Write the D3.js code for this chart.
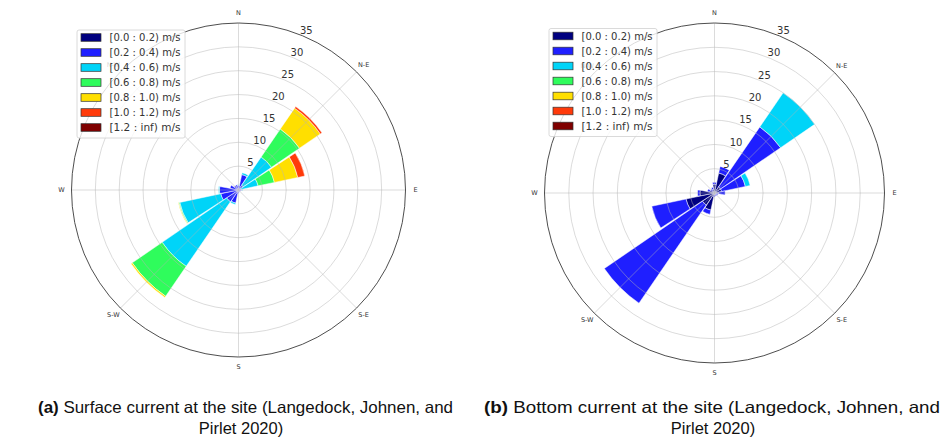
<!DOCTYPE html>
<html>
<head>
<meta charset="utf-8">
<script src="https://cdnjs.cloudflare.com/ajax/libs/d3/7.8.5/d3.min.js"></script>
<style>
  body { margin: 0; background: #fff; }
  svg { display: block; }
</style>
</head>
<body>
<svg id="fig" width="944" height="446"></svg>
<script>
// 16 direction sectors, compass degrees (0 = N, clockwise)
var sectorAngles = d3.range(16).map(function(i) { return i * 22.5; });

var speedBins = ["[0.0 : 0.2) m/s", "[0.2 : 0.4) m/s", "[0.4 : 0.6) m/s", "[0.6 : 0.8) m/s",
                 "[0.8 : 1.0) m/s", "[1.0 : 1.2) m/s", "[1.2 : inf) m/s"];

// frequency (%) per direction, one value per speed bin
var surfaceFreq = [
  [0.4, 0.6, 0.1, 0, 0, 0, 0],     // N
  [0.4, 2.9, 0.4, 0, 0, 0, 0],     // NNE
  [0.3, 0.9, 7.2, 7.1, 5.3, 0.4, 0], // NE
  [0.2, 0.4, 3.6, 3.5, 5.0, 1.5, 0], // ENE
  [0.2, 0.5, 0.2, 0, 0, 0, 0],     // E
  [0.2, 0.3, 0, 0, 0, 0, 0],       // ESE
  [0.2, 0.2, 0, 0, 0, 0, 0],       // SE
  [0.2, 0.3, 0, 0, 0, 0, 0],       // SSE
  [0.3, 0.4, 0, 0, 0, 0, 0],       // S
  [0.5, 2.3, 0.3, 0, 0, 0, 0],     // SSW
  [0.5, 2.5, 16.4, 7.6, 0.3, 0, 0], // SW
  [0.3, 3.5, 8.8, 0.2, 0.1, 0, 0], // WSW
  [0.5, 3.5, 0.2, 0, 0, 0, 0],     // W
  [0.3, 1.5, 0, 0, 0, 0, 0],       // WNW
  [0.3, 0.8, 0, 0, 0, 0, 0],       // NW
  [0.3, 0.8, 0, 0, 0, 0, 0]        // NNW
];

var bottomFreq = [
  [1.8, 0.4, 0, 0, 0, 0, 0],   // N
  [4.2, 1.4, 0, 0, 0, 0, 0],   // NNE
  [1.5, 15.0, 8.5, 0, 0, 0, 0], // NE
  [1.5, 5.0, 1.0, 0, 0, 0, 0], // ENE
  [0.8, 1.4, 0, 0, 0, 0, 0],   // E
  [0.3, 0.5, 0, 0, 0, 0, 0],   // ESE
  [0.3, 0.4, 0, 0, 0, 0, 0],   // SE
  [0.3, 0.4, 0, 0, 0, 0, 0],   // SSE
  [0.4, 0.4, 0, 0, 0, 0, 0],   // S
  [3.6, 0.9, 0, 0, 0, 0, 0],   // SSW
  [3.0, 24.5, 0, 0, 0, 0, 0],  // SW
  [6.0, 7.2, 0, 0, 0, 0, 0],   // WSW
  [3.0, 0.5, 0, 0, 0, 0, 0],   // W
  [1.0, 0.5, 0, 0, 0, 0, 0],   // WNW
  [0.5, 0.5, 0, 0, 0, 0, 0],   // NW
  [0.8, 0.4, 0, 0, 0, 0, 0]    // NNW
];

var radialTicks = [5, 10, 15, 20, 25, 30, 35];
var compassLabels = ["N", "N-E", "E", "S-E", "S", "S-W", "W", "N-W"];

var captionA = ["(a)", " Surface current at the site (Langedock, Johnen, and", "Pirlet 2020)"];
var captionB = ["(b)", " Bottom current at the site (Langedock, Johnen, and", "Pirlet 2020)"];

var binColors = ["#00007f", "#1f1fff", "#00d4f8", "#2ffc5c", "#ffdf00", "#ff3a0a", "#7f0000"];

var svg = d3.select("#fig");
var rad = Math.PI / 180;

function drawRose(cx, cy, R, data, legendX, legendY) {
  var g = svg.append("g").attr("transform", "translate(" + cx + "," + cy + ")");
  var r = d3.scaleLinear().domain([0, 35]).range([0, R]);

  // stacked speed bins per direction
  var stack = d3.stack().keys(d3.range(speedBins.length));
  var series = stack(data);

  var halfW = 22.5 * 0.94 / 2;
  var arc = d3.arc();

  series.forEach(function(s, k) {
    g.append("g").selectAll("path")
      .data(s)
      .join("path")
      .attr("d", function(d, i) {
        if (d[1] - d[0] <= 0) return null;
        return arc({
          innerRadius: r(d[0]), outerRadius: r(d[1]),
          startAngle: (sectorAngles[i] - halfW) * rad,
          endAngle: (sectorAngles[i] + halfW) * rad
        });
      })
      .attr("fill", binColors[k])
      .attr("stroke", "#fff")
      .attr("stroke-width", 0.5);
  });

  // grid over the bars
  var grid = g.append("g").attr("fill", "none").attr("stroke", "#b4b4b4")
    .attr("stroke-opacity", 0.6).attr("stroke-width", 0.8);
  grid.selectAll("circle").data(radialTicks.slice(0, -1)).join("circle")
    .attr("r", function(d) { return r(d); });
  grid.selectAll("line").data(d3.range(8)).join("line")
    .attr("x1", 0).attr("y1", 0)
    .attr("x2", function(i) { return R * Math.sin(i * 45 * rad); })
    .attr("y2", function(i) { return -R * Math.cos(i * 45 * rad); });

  g.append("circle").attr("r", R).attr("fill", "none")
    .attr("stroke", "#3a3a3a").attr("stroke-width", 0.9);

  // compass labels (N-W sits under the legend, as in the original)
  g.append("g").selectAll("text").data(compassLabels).join("text")
    .attr("x", function(d, i) { return (R + 10) * Math.sin(i * 45 * rad); })
    .attr("y", function(d, i) { return -(R + 10) * Math.cos(i * 45 * rad); })
    .attr("text-anchor", "middle").attr("dominant-baseline", "central")
    .attr("font-family", "DejaVu Sans").attr("font-size", 6.5).attr("fill", "#333")
    .text(function(d) { return d; });

  // radial tick labels
  g.append("g").selectAll("text").data(radialTicks).join("text")
    .attr("x", function(d) { return (r(d) + 6.5) * Math.sin(23 * rad); })
    .attr("y", function(d) { return -(r(d) + 6.5) * Math.cos(23 * rad); })
    .attr("text-anchor", "middle").attr("dominant-baseline", "central")
    .attr("font-family", "DejaVu Sans").attr("font-size", 10).attr("fill", "#333")
    .text(function(d) { return d; });

  // legend
  var lg = svg.append("g").attr("transform", "translate(" + legendX + "," + legendY + ")");
  lg.append("rect").attr("width", 108).attr("height", 108).attr("rx", 2)
    .attr("fill", "#fff").attr("fill-opacity", 0.8)
    .attr("stroke", "#d0d0d0").attr("stroke-width", 0.8);
  var rows = lg.selectAll("g.row").data(speedBins).join("g")
    .attr("class", "row")
    .attr("transform", function(d, i) { return "translate(0," + (7.5 + i * 15) + ")"; });
  rows.append("rect").attr("x", 4).attr("y", -3.8).attr("width", 20).attr("height", 7.6)
    .attr("fill", function(d, i) { return binColors[i]; })
    .attr("stroke", "#333").attr("stroke-width", 0.7);
  rows.append("text").attr("x", 32.5).attr("y", 0)
    .attr("dominant-baseline", "central")
    .attr("font-family", "DejaVu Sans").attr("font-size", 10.2).attr("fill", "#333")
    .attr("textLength", 71).attr("lengthAdjust", "spacingAndGlyphs")
    .text(function(d) { return d; });
}

drawRose(238.5, 190, 167, surfaceFreq, 77, 30);
drawRose(714.5, 193, 170, bottomFreq, 549, 28.5);

function caption(parts, x0, x1, cx2) {
  var t = svg.append("text")
    .attr("x", x0).attr("y", 413)
    .attr("font-family", "Liberation Sans, Arial, sans-serif").attr("font-size", 16.5)
    .attr("fill", "#111")
    .attr("textLength", x1 - x0).attr("lengthAdjust", "spacingAndGlyphs");
  t.append("tspan").attr("font-weight", "bold").text(parts[0]);
  t.append("tspan").text(parts[1]);
  svg.append("text")
    .attr("x", cx2).attr("y", 434).attr("text-anchor", "middle")
    .attr("font-family", "Liberation Sans, Arial, sans-serif").attr("font-size", 16.5)
    .attr("fill", "#111")
    .text(parts[2]);
}
caption(captionA, 38, 453, 241);
caption(captionB, 484, 940, 713);
</script>
</body>
</html>
